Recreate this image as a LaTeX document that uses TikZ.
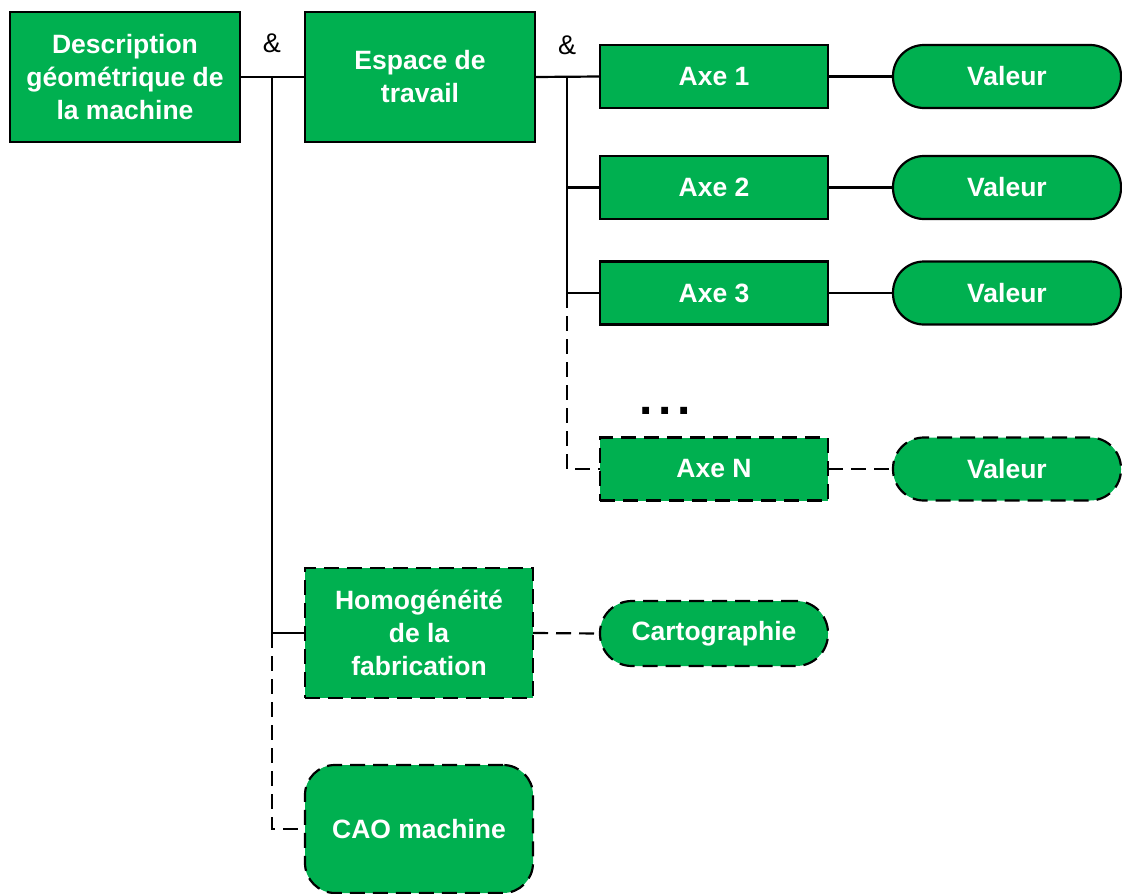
\documentclass[tikz,border=0pt]{standalone}
\usepackage{fontspec}
\setmainfont{Liberation Sans}
\definecolor{boxgreen}{HTML}{00B050}
\begin{document}
\begin{tikzpicture}[x=1pt,y=-1pt,
  base/.style={fill=boxgreen, draw=black, line width=2.2pt, inner sep=0pt, outer sep=0pt,
    text=white, font=\fontsize{26.5}{33}\selectfont\bfseries, align=center},
  bigbox/.style={base, minimum width=230pt, minimum height=130pt},
  axebox/.style={base, minimum width=228pt, minimum height=63pt},
  valbox/.style={base, minimum width=228pt, minimum height=63pt, rounded corners=31pt},
  dsh/.style={dash pattern=on 15pt off 8pt},
  conn/.style={line width=2.2pt},
  amp/.style={font=\fontsize{27}{30}\selectfont, inner sep=0pt}
]
\useasboundingbox (0,0) rectangle (1122,894);
\node[bigbox] (desc) at (125,77) {Description\\géométrique de\\la machine};
\node[bigbox] (esp) at (420,77) {Espace de\\travail};
\node[axebox] (axe1) at (714,76.5) {Axe 1};
\node[valbox] (val1) at (1007,76.5) {Valeur};
\node[axebox] (axe2) at (714,187.5) {Axe 2};
\node[valbox] (val2) at (1007,187.5) {Valeur};
\node[axebox] (axe3) at (714,293) {Axe 3};
\node[valbox] (val3) at (1007,293) {Valeur};
\node[axebox, dsh] (axeN) at (714,469) {Axe N};
\node[valbox, dsh] (valN) at (1007,469) {Valeur};
\node[base, dsh, minimum width=228pt, minimum height=130pt] (homog) at (419,633) {Homogénéité\\de la\\fabrication};
\node[valbox, dsh, minimum height=65pt, rounded corners=32pt] (carto) at (714,633.5) {Cartographie};
\node[base, dsh, minimum width=228pt, minimum height=128pt, rounded corners=30pt] (cao) at (419,829) {CAO machine};
\node[font=\fontsize{48}{48}\selectfont\bfseries, anchor=base, inner sep=0pt] (dots) at (665,414) {.\hspace{6pt}.\hspace{6pt}.};
\node[amp, anchor=base] (amp1) at (272,52) {\&};
\node[amp, anchor=base] (amp2) at (567,54) {\&};
\coordinate (j1) at (272,77);
\coordinate (j2) at (567,77);
\draw[conn] (desc.east) -- (esp.west);
\draw[conn] (esp.east) -- (axe1.west);
\draw[conn] (j1) |- (homog.west);
\draw[conn, dsh] (j1 |- homog.west) |- (cao.west);
\draw[conn] (j2) |- (axe2.west);
\draw[conn] (j2) |- (axe3.west);
\draw[conn, dsh] (j2 |- axe3.west) |- (axeN.west);
\draw[conn] (axe1.east) -- (val1.west);
\draw[conn] (axe2.east) -- (val2.west);
\draw[conn] (axe3.east) -- (val3.west);
\draw[conn, dsh] (axeN.east) -- (valN.west);
\draw[conn, dsh] (homog.east) -- (carto.west);
\end{tikzpicture}
\end{document}
